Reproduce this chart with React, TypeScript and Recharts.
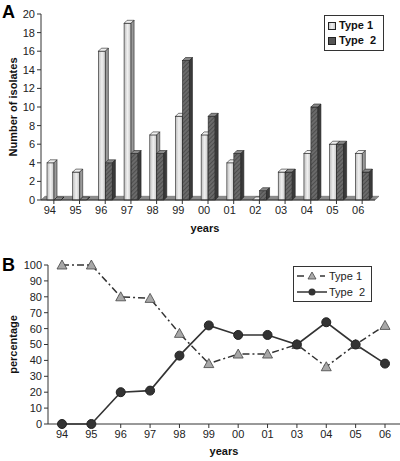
import React from 'react';
import { BarChart, Bar, XAxis, YAxis, LineChart, Line, Legend, ReferenceArea } from 'recharts';

const yearsA = ['94', '95', '96', '97', '98', '99', '00', '01', '02', '03', '04', '05', '06'];
const type1Counts = [4, 3, 16, 19, 7, 9, 7, 4, 0, 3, 5, 6, 5];
const type2Counts = [0, 0, 4, 5, 5, 15, 9, 5, 1, 3, 10, 6, 3];

const yearsB = ['94', '95', '96', '97', '98', '99', '00', '01', '03', '04', '05', '06'];
const type1Pct = [100, 100, 80, 79, 57, 38, 44, 44, 50, 36, 50, 62];
const type2Pct = [0, 0, 20, 21, 43, 62, 56, 56, 50, 64, 50, 38];

const ticksA = [0, 2, 4, 6, 8, 10, 12, 14, 16, 18, 20];
const ticksB = [0, 10, 20, 30, 40, 50, 60, 70, 80, 90, 100];

const dataA = yearsA.map((y, i) => ({ year: y, t1: type1Counts[i], t2: type2Counts[i] }));
const dataB = yearsB.map((y, i) => ({ year: y, t1: type1Pct[i], t2: type2Pct[i] }));

const FONT = 'Liberation Sans, Arial, sans-serif';

const Bar3D = (props: any) => {
  const { x, y, width, height, kind } = props;
  const d = 3;
  const front = kind === 1 ? 'url(#gLight)' : 'url(#hDark)';
  const top = kind === 1 ? '#eeeeee' : '#888888';
  const side = kind === 1 ? '#9a9a9a' : '#3a3a3a';
  const h = Math.max(0, height);
  return (
    <g stroke="#222" strokeWidth={0.6}>
      <rect x={x} y={y} width={width} height={h} fill={front} />
      <polygon points={`${x},${y} ${x + d},${y - d} ${x + width + d},${y - d} ${x + width},${y}`} fill={top} />
      <polygon points={`${x + width},${y} ${x + width + d},${y - d} ${x + width + d},${y + h - d} ${x + width},${y + h}`} fill={side} />
    </g>
  );
};

const Floor = (props: any) => {
  const { x, y, width, height } = props;
  const d = 4;
  return (
    <polygon
      points={`${x},${y + height} ${x + width},${y + height} ${x + width + d},${y} ${x + d},${y}`}
      fill="#8c8c8c" stroke="#666" strokeWidth={0.6}
    />
  );
};

const LegendA = () => (
  <div style={{ border: '1px solid #333', background: '#fff', width: 55, padding: '2px 0 2px 3px', fontFamily: FONT, fontWeight: 'bold', fontSize: 11, lineHeight: '15px', color: '#111' }}>
    <div style={{ display: 'flex', alignItems: 'center' }}>
      <svg width={8} height={8} style={{ marginRight: 3 }}><rect x={0.5} y={0.5} width={7} height={7} fill="url(#gLightL)" stroke="#222" /></svg>
      Type 1
    </div>
    <div style={{ display: 'flex', alignItems: 'center', whiteSpace: 'pre' }}>
      <svg width={8} height={8} style={{ marginRight: 3 }}><rect x={0.5} y={0.5} width={7} height={7} fill="#555" stroke="#222" /></svg>
      {'Type  2'}
    </div>
  </div>
);

const LegendB = () => (
  <div style={{ border: '1px solid #333', background: '#fff', width: 74, padding: '1px 0 1px 3px', fontFamily: FONT, fontSize: 11, lineHeight: '16px', color: '#222' }}>
    <div style={{ display: 'flex', alignItems: 'center' }}>
      <svg width={30} height={10} style={{ marginRight: 2 }}>
        <line x1={0} y1={5} x2={7} y2={5} stroke="#333" strokeWidth={1.5} />
        <polygon points="15,1 19,8 11,8" fill="#aaa" stroke="#444" strokeWidth={0.8} />
        <line x1={23} y1={5} x2={28} y2={5} stroke="#333" strokeWidth={1.5} />
      </svg>
      Type 1
    </div>
    <div style={{ display: 'flex', alignItems: 'center', whiteSpace: 'pre' }}>
      <svg width={30} height={10} style={{ marginRight: 2 }}>
        <line x1={0} y1={5} x2={30} y2={5} stroke="#333" strokeWidth={1.5} />
        <circle cx={15} cy={5} r={3.5} fill="#333" />
      </svg>
      {'Type  2'}
    </div>
  </div>
);

const Triangle = (props: any) => {
  const { cx, cy } = props;
  if (cx == null || cy == null) return null;
  return <polygon points={`${cx},${cy - 5} ${cx + 5},${cy + 4} ${cx - 5},${cy + 4}`} fill="#a8a8a8" stroke="#444" strokeWidth={0.8} />;
};

const Dot = (props: any) => {
  const { cx, cy } = props;
  if (cx == null || cy == null) return null;
  return <circle cx={cx} cy={cy} r={4.5} fill="#333" stroke="#222" />;
};

export default function App() {
  return (
    <div style={{ position: 'absolute', left: 0, top: 0, width: 400, height: 461, background: '#fff', fontFamily: FONT }}>
      <div style={{ position: 'absolute', left: 2, top: 2, fontWeight: 'bold', fontSize: 18, fontFamily: FONT }}>A</div>
      <div style={{ position: 'absolute', left: 2, top: 255, fontWeight: 'bold', fontSize: 18, fontFamily: FONT }}>B</div>
      <div style={{ position: 'absolute', left: 0, top: 232 }}>
        <LineChart width={400} height={229} data={dataB} margin={{ top: 33, right: 0, bottom: 8, left: 0 }}>
          <XAxis dataKey="year" padding={{ left: 14, right: 15 }} tick={{ fontSize: 11, fill: '#222', fontFamily: FONT }} tickLine={{ stroke: '#333' }} axisLine={{ stroke: '#333' }} tickSize={4} interval={0} height={29}
            label={{ value: 'years', position: 'insideBottom', offset: 0, dy: 2, style: { fontWeight: 'bold', fontSize: 11, fill: '#111', fontFamily: FONT } }} />
          <YAxis domain={[0, 100]} ticks={ticksB} width={48} tick={{ fontSize: 11, fill: '#222', fontFamily: FONT }} tickLine={{ stroke: '#333' }} axisLine={{ stroke: '#333' }} tickSize={4} interval={0}
            label={{ value: 'percentage', angle: -90, position: 'insideLeft', offset: 13, style: { textAnchor: 'middle', fontWeight: 'bold', fontSize: 11, fill: '#111', fontFamily: FONT } }} />
          <Legend layout="horizontal" verticalAlign="middle" align="center" content={<LegendB />} wrapperStyle={{ position: 'absolute', left: 293, top: 34, width: 'auto', height: 'auto' }} />
          <Line dataKey="t1" name="Type 1" stroke="#333" strokeWidth={1.5} strokeDasharray="7 3 2 3" dot={<Triangle />} isAnimationActive={false} />
          <Line dataKey="t2" name="Type 2" stroke="#333" strokeWidth={1.6} dot={<Dot />} isAnimationActive={false} />
        </LineChart>
      </div>
      <div style={{ position: 'absolute', left: 0, top: 0 }}>
        <BarChart width={400} height={240} data={dataA} margin={{ top: 14, right: 25, bottom: 8, left: 0 }} barSize={7} barGap={0}>
          <defs>
            <linearGradient id="gLight" x1="0" y1="0" x2="1" y2="0">
              <stop offset="0%" stopColor="#bdbdbd" />
              <stop offset="50%" stopColor="#f0f0f0" />
              <stop offset="100%" stopColor="#c4c4c4" />
            </linearGradient>
            <linearGradient id="gLightL" x1="0" y1="0" x2="1" y2="0">
              <stop offset="0%" stopColor="#bdbdbd" />
              <stop offset="50%" stopColor="#f0f0f0" />
              <stop offset="100%" stopColor="#c4c4c4" />
            </linearGradient>
            <pattern id="hDark" width="3" height="3" patternUnits="userSpaceOnUse" patternTransform="rotate(45)">
              <rect width="3" height="3" fill="#6a6a6a" />
              <line x1="0" y1="0" x2="0" y2="3" stroke="#3a3a3a" strokeWidth="1.2" />
            </pattern>
          </defs>
          <ReferenceArea x1="94" x2="06" y1={0} y2={0.4} shape={<Floor />} ifOverflow="visible" />
          <XAxis dataKey="year" height={32} tick={{ fontSize: 11, fill: '#222', fontFamily: FONT, dx: -4 }} tickLine={{ stroke: '#333' }} axisLine={{ stroke: '#333' }} tickSize={4} interval={0}
            label={{ value: 'years', position: 'insideBottom', offset: 0, dx: -3, style: { fontWeight: 'bold', fontSize: 11, fill: '#111', fontFamily: FONT } }} />
          <YAxis domain={[0, 20]} ticks={ticksA} width={41} tick={{ fontSize: 11, fill: '#222', fontFamily: FONT }} tickLine={{ stroke: '#333' }} axisLine={{ stroke: '#333' }} tickSize={4} interval={0}
            label={{ value: 'Number of isolates', angle: -90, position: 'insideLeft', offset: 13, style: { textAnchor: 'middle', fontWeight: 'bold', fontSize: 11, fill: '#111', fontFamily: FONT } }} />
          <Legend layout="horizontal" verticalAlign="middle" align="center" content={<LegendA />} wrapperStyle={{ position: 'absolute', left: 324, top: 15, width: 'auto', height: 'auto' }} />
          <Bar dataKey="t1" name="Type 1" isAnimationActive={false} shape={(p: any) => <Bar3D {...p} kind={1} />} />
          <Bar dataKey="t2" name="Type 2" isAnimationActive={false} shape={(p: any) => <Bar3D {...p} kind={2} />} />
        </BarChart>
      </div>
    </div>
  );
}
